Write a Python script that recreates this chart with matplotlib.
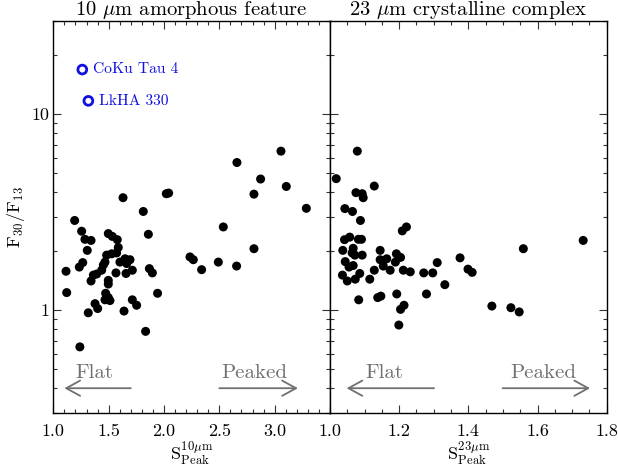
import matplotlib
matplotlib.use("Agg")
import matplotlib.pyplot as plt
from matplotlib.ticker import FixedLocator, FixedFormatter, NullFormatter, MultipleLocator
import numpy as np

plt.rcParams['font.family'] = ['cmr10', 'DejaVu Serif']
plt.rcParams['mathtext.fontset'] = 'cm'
plt.rcParams['axes.formatter.use_mathtext'] = True

# ---- data: left panel (10 um amorphous feature) ----
s10 = [1.115, 1.121, 1.193, 1.256, 1.286, 1.341, 1.307, 1.266, 1.235, 1.341,
       1.316, 1.240, 1.362, 1.392, 1.437, 1.452, 1.467, 1.482, 1.497, 1.533,
       1.578, 1.527, 1.572, 1.587, 1.602, 1.648, 1.693, 1.663, 1.714, 1.657,
       1.566, 1.497, 1.497, 1.473, 1.497, 1.467, 1.512, 1.377, 1.401, 1.714,
       1.753, 1.639, 1.834, 1.630, 1.813, 1.859, 1.868, 1.895, 1.942, 2.021,
       2.042, 2.235, 2.265, 2.340, 2.491, 2.536, 2.656, 2.659, 2.813, 2.813,
       2.873, 3.057, 3.105, 3.286]
f10 = [1.58, 1.23, 2.87, 2.53, 2.30, 2.27, 2.02, 1.75, 1.66, 1.41,
       0.97, 0.65, 1.51, 1.53, 1.60, 1.70, 1.76, 1.91, 2.46, 2.38,
       2.29, 1.94, 1.96, 2.09, 1.76, 1.83, 1.81, 1.73, 1.60, 1.54,
       1.55, 1.42, 1.36, 1.22, 1.16, 1.13, 1.12, 1.08, 1.02, 1.13,
       1.06, 0.99, 0.78, 3.75, 3.19, 2.44, 1.63, 1.55, 1.22, 3.93,
       3.96, 1.87, 1.81, 1.61, 1.76, 2.66, 1.68, 5.67, 3.91, 2.06,
       4.67, 6.48, 4.28, 3.31]

# special (open circle) sources
special_names = ["CoKu Tau 4", "LkHA 330"]
special_s10 = [1.262, 1.317]
special_f = [16.9, 11.7]

# ---- data: right panel (23 um crystalline complex) ----
s23 = [1.079, 1.018, 1.128, 1.075, 1.093, 1.096, 1.043, 1.065, 1.088, 1.209,
       1.221, 1.732, 1.559, 1.042, 1.057, 1.082, 1.091, 1.037, 1.067, 1.064,
       1.072, 1.093, 1.145, 1.192, 1.204, 1.145, 1.164, 1.154, 1.189, 1.376,
       1.310, 1.044, 1.055, 1.067, 1.128, 1.174, 1.212, 1.232, 1.271, 1.297,
       1.399, 1.411, 1.036, 1.050, 1.073, 1.086, 1.115, 1.332, 1.083, 1.138,
       1.147, 1.193, 1.279, 1.214, 1.204, 1.199, 1.468, 1.523, 1.547]
f23 = [6.48, 4.69, 4.30, 3.98, 3.93, 3.75, 3.30, 3.19, 2.87, 2.54,
       2.66, 2.27, 2.06, 2.29, 2.36, 2.30, 2.30, 2.02, 2.07, 1.96,
       1.91, 1.91, 2.02, 1.94, 1.86, 1.81, 1.83, 1.68, 1.76, 1.85,
       1.75, 1.77, 1.66, 1.69, 1.60, 1.60, 1.60, 1.57, 1.55, 1.55,
       1.62, 1.56, 1.51, 1.41, 1.44, 1.54, 1.44, 1.35, 1.13, 1.16,
       1.18, 1.21, 1.21, 1.06, 1.01, 0.84, 1.05, 1.03, 0.98]

# axis ranges / ticks
xlim10 = (1.0, 3.5)
xticks10 = [1.0, 1.5, 2.0, 2.5, 3.0]
xlim23 = (1.0, 1.8)
xticks23 = [1.0, 1.2, 1.4, 1.6, 1.8]
ylim = (0.3, 30)
yticks = [1, 10]
yticklabels = ["1", "10"]

# Flat / Peaked arrows (tail, tip) in data x, at y level, and label starts
arrow_y = 0.40
text_y = 0.48
flat10 = (1.70, 1.10)
peak10 = (2.50, 3.21)
flat23 = (1.301, 1.048)
peak23 = (1.499, 1.752)
flat_text_x = [1.196, 1.101]
peak_text_x = [2.521, 1.520]

gray = '#707070'
blue = '#1010e0'

fig = plt.figure(figsize=(6.18, 4.66), dpi=100)
W, H = 618.0, 466.0
bottom = 1 - 412.7 / H
height = (412.7 - 20.7) / H
ax1 = fig.add_axes([53.3 / W, bottom, (330 - 53.3) / W, height])
ax2 = fig.add_axes([330 / W, bottom, (606.7 - 330) / W, height])

for ax, xlim, xt, minor in [(ax1, xlim10, xticks10, 0.1), (ax2, xlim23, xticks23, 0.05)]:
    ax.set_yscale('log')
    ax.set_xlim(*xlim)
    ax.set_ylim(*ylim)
    ax.xaxis.set_major_locator(FixedLocator(xt))
    ax.xaxis.set_major_formatter(FixedFormatter([f"{v:.1f}" for v in xt]))
    ax.xaxis.set_minor_locator(MultipleLocator(minor))
    ax.yaxis.set_major_locator(FixedLocator(yticks))
    ax.yaxis.set_minor_locator(FixedLocator([0.3, 0.4, 0.5, 0.6, 0.7, 0.8, 0.9,
                                             2, 3, 4, 5, 6, 7, 8, 9, 20, 30]))
    ax.yaxis.set_minor_formatter(NullFormatter())
    ax.tick_params(which='both', direction='in', top=True, right=True, width=0.8, color='#333333')
    ax.tick_params(which='major', length=5.5)
    ax.tick_params(which='minor', length=3)
    ax.tick_params(axis='x', which='major', pad=8, labelsize=13)
    for s in ax.spines.values():
        s.set_linewidth(1.0)

ax1.yaxis.set_major_formatter(FixedFormatter(yticklabels))
ax1.tick_params(axis='y', which='major', pad=3, labelsize=13)
ax2.yaxis.set_major_formatter(NullFormatter())

ax1.scatter(s10, f10, s=42, color='black', edgecolors='none', zorder=3)
ax1.scatter(special_s10, special_f, s=40, facecolors='none', edgecolors=blue, linewidths=2.0, zorder=3)
for nm, xs, ys in zip(special_names, special_s10, special_f):
    ax1.annotate(nm, (xs, ys), xytext=(8, 0), textcoords='offset points',
                 va='center', ha='left', color=blue, fontsize=11.2)

ax2.scatter(s23, f23, s=42, color='black', edgecolors='none', zorder=3)

ax1.set_title(r"10 $\mu$m amorphous feature", fontsize=14.8, pad=2.5)
ax2.set_title(r"23 $\mu$m crystalline complex", fontsize=14.8, pad=2.5)

ax1.set_xlabel(r"$\mathrm{S}^{10\mu\mathrm{m}}_{\mathrm{Peak}}$", fontsize=13, labelpad=0)
ax2.set_xlabel(r"$\mathrm{S}^{23\mu\mathrm{m}}_{\mathrm{Peak}}$", fontsize=13, labelpad=0)
ax1.set_ylabel(r"$\mathrm{F}_{30}/\mathrm{F}_{13}$", fontsize=13, labelpad=3)

aprops = dict(arrowstyle='->,head_length=1.0,head_width=0.55', color=gray, lw=1.3,
              shrinkA=0, shrinkB=0)
for i, (ax, (ft, fh), (pt, ph)) in enumerate([(ax1, flat10, peak10), (ax2, flat23, peak23)]):
    ax.annotate('', xy=(fh, arrow_y), xytext=(ft, arrow_y), arrowprops=aprops)
    ax.annotate('', xy=(ph, arrow_y), xytext=(pt, arrow_y), arrowprops=aprops)
    ax.text(flat_text_x[i], text_y, "Flat", color=gray, fontsize=15, ha='left', va='center')
    ax.text(peak_text_x[i], text_y, "Peaked", color=gray, fontsize=15, ha='left', va='center')

fig.savefig("out.png", dpi=100)
